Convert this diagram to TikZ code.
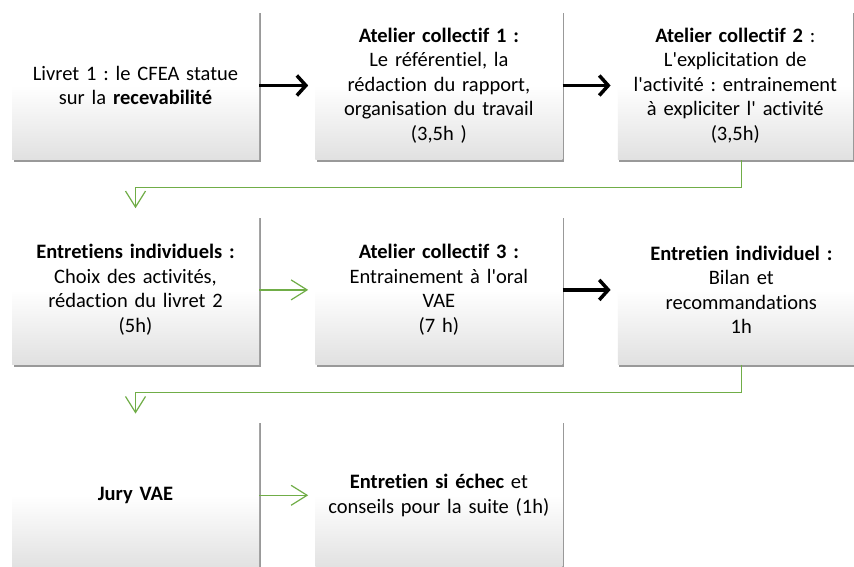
\documentclass[tikz,border=0pt]{standalone}
\usepackage{fontspec}
\setmainfont{Carlito}[Ligatures=NoCommon]
\usepackage{tikz}
\usetikzlibrary{positioning,shadows,arrows.meta}
\definecolor{vert}{RGB}{112,173,71}
\newcommand{\apos}{\textquotesingle}
\frenchspacing
\tikzstyle{etape} = [rectangle, top color=white, bottom color=black!12, middle color=white, minimum width=247pt, minimum height=149pt, text width=232pt, align=center, font=\fontsize{20.5}{24.5}\selectfont, drop shadow={shadow xshift=1.5pt, shadow yshift=-2.5pt, opacity=.4, fill=black}]
\tikzstyle{fleche} = [line width=3.5pt, -{Straight Barb[length=9pt,width=20pt]}, shorten >=7pt]
\tikzstyle{flechev} = [draw=vert, line width=1.2pt, -{Straight Barb[length=16pt,width=20pt]}, shorten >=7pt]

\begin{document}
\begin{tikzpicture}
	\useasboundingbox[fill=white] (0,0) rectangle (854pt,566pt);
	% ligne 1
	\node[etape] (b1) at (135.5pt,480.5pt) {Livret 1 : le CFEA statue\\ sur la \textbf{recevabilité}};
	\node[etape, right=56pt of b1] (b2) {\textbf{Atelier collectif 1 :}\\ Le référentiel, la\\ rédaction du rapport,\\ organisation du travail\\ (3,5h )};
	\node[etape, right=55pt of b2, minimum width=235pt, text width=228pt] (b3) {\textbf{Atelier collectif 2} :\\ L\apos explicitation de\\ l\apos activité : entrainement\\ à expliciter l\apos{} activité\\ (3,5h)};
	% ligne 2
	\node[etape, below=55pt of b1] (b4) {\textbf{Entretiens individuels :}\\ Choix des activités,\\ rédaction du livret 2\\ (5h)};
	\node[etape, right=56pt of b4] (b5) {\textbf{Atelier collectif 3 :}\\ Entrainement à l\apos oral\\ VAE\\ (7 h)};
	\node[etape, right=55pt of b5] (b6) {\textbf{Entretien individuel :}\\ Bilan et\\ recommandations\\ 1h};
	% ligne 3
	\node[etape, below=56pt of b4] (b7) {\textbf{Jury VAE}};
	\node[etape, right=56pt of b7] (b8) {\textbf{Entretien si échec} et\\ conseils pour la suite (1h)};
	% fleches
	\draw[fleche] (b1) -- (b2);
	\draw[fleche] (b2) -- (b3);
	\draw[flechev] (b3.south -| b6) -- ++(0,-27pt) -| (b4);
	\draw[flechev] (b4) -- (b5);
	\draw[fleche] (b5) -- (b6);
	\draw[flechev] (b6.south) -- ++(0,-28pt) -| (b7);
	\draw[flechev] (b7) -- (b8);
\end{tikzpicture}
\end{document}
